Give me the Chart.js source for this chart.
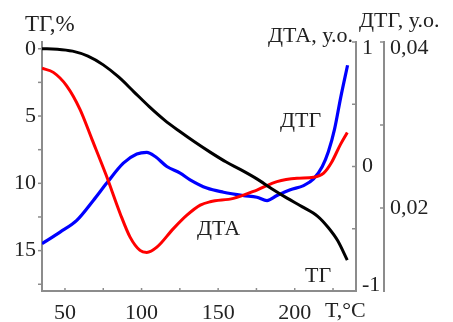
<!DOCTYPE html>
<html><head><meta charset="utf-8">
<script src="https://cdn.jsdelivr.net/npm/chart.js@4"></script>
</head>
<body style="margin:0">
<canvas id="c" width="453" height="322"></canvas>
<script>
// ---- data ----
const tgT  = [35, 45, 55, 65, 75, 85, 95, 105, 115, 125, 135, 145, 155, 165, 175, 185, 195, 205, 215, 222, 228, 234.3];
const tgV  = [0, 0.03, 0.18, 0.55, 1.2, 2.1, 3.2, 4.3, 5.3, 6.15, 6.95, 7.7, 8.4, 9.0, 9.65, 10.4, 11.1, 11.75, 12.45, 13.3, 14.25, 15.7];

const dtaT = [35, 42.4, 51.1, 59.8, 67.7, 76.8, 86, 92.5, 99, 103.4, 110, 120.8, 129.6, 138.3, 144.8, 160, 175.3, 188.4, 201.5, 212.3, 218.9, 223.9, 229.8, 234.3];
const dtaV = [0.789, 0.756, 0.648, 0.459, 0.216, -0.067, -0.377, -0.567, -0.674, -0.69, -0.648, -0.499, -0.391, -0.31, -0.283, -0.256, -0.189, -0.121, -0.094, -0.086, -0.053, 0.03, 0.176, 0.273];

const dtgT = [35, 46.8, 57.7, 68.5, 77.3, 88.1, 96.9, 103.4, 108.9, 116.5, 125.2, 131.7, 142.6, 153.5, 166.6, 175.3, 181.9, 188.4, 197.1, 205.8, 212.3, 218, 222, 226, 230, 234.5];
const dtgV = [0.0157, 0.0171, 0.0185, 0.0209, 0.0230, 0.0254, 0.0265, 0.0267, 0.0262, 0.0250, 0.0242, 0.0234, 0.0224, 0.0219, 0.0215, 0.0213, 0.0209, 0.0215, 0.0222, 0.0227, 0.0235, 0.0250, 0.0268, 0.0295, 0.0333, 0.0372];

const xTicks = [50, 75, 100, 125, 150, 175, 200, 225];
const xTickLabels = ['50', '', '100', '', '150', '', '200', ''];
const tgTicks = [0, 2.5, 5, 7.5, 10, 12.5, 15, 17.5];
const tgTickLabels = ['0', '', '5', '', '10', '', '15', ''];
const dtaTicks = [-1, -0.5, 0, 0.5, 1];
const dtaTickLabels = [['-1', ''], '', '0', '', ['', '1']];
const dtgTicks = [0.02, 0.03, 0.04];
const dtgTickLabels = ['0,02', '', ['', '0,04']];

// ---- styling ----
const FONT = 'Liberation Serif';
const TXT = '#222';
const AXIS = '#8c8c8c';

function pts(xs, ys) { return xs.map((x, i) => ({ x: x, y: ys[i] })); }
function setTicks(arr) { return (scale) => { scale.ticks = arr.map(v => ({ value: v })); }; }

const tickMarks = {
  id: 'tickMarks',
  afterDraw(chart) {
    const ctx = chart.ctx, s = chart.scales;
    ctx.save();
    ctx.strokeStyle = AXIS;
    ctx.lineWidth = 1.5;
    const seg = (x1, y1, x2, y2) => { ctx.beginPath(); ctx.moveTo(x1, y1); ctx.lineTo(x2, y2); ctx.stroke(); };
    s.y.ticks.forEach(t => { const p = s.y.getPixelForValue(t.value); seg(s.y.right - 4, p, s.y.right, p); });
    s.x.ticks.forEach(t => { const p = s.x.getPixelForValue(t.value); seg(p, s.x.top - 3, p, s.x.top + 1); });
    s.dta.ticks.forEach(t => { const p = s.dta.getPixelForValue(t.value); seg(s.dta.left - 4, p, s.dta.left, p); });
    s.dtg.ticks.forEach(t => { const p = s.dtg.getPixelForValue(t.value); seg(s.dtg.left - 4, p, s.dtg.left, p); });
    ctx.restore();
  }
};

const texts = {
  id: 'texts',
  afterDraw(chart) {
    const ctx = chart.ctx;
    ctx.save();
    ctx.fillStyle = TXT;
    ctx.textBaseline = 'alphabetic';
    const items = [
      ['ТГ,%', 25, 31, 'left', 23],
      ['ДТА, у.о.', 353, 42, 'right', 22],
      ['ДТГ, у.о.', 359, 27, 'left', 22],
      ['ДТГ', 280, 127, 'left', 22],
      ['ДТА', 197, 235, 'left', 22],
      ['ТГ', 305, 282, 'left', 22],
      ['T,°C', 325, 317, 'left', 22]
    ];
    items.forEach(([t, x, y, a, sz]) => { ctx.font = sz + 'px ' + FONT; ctx.textAlign = a; ctx.fillText(t, x, y); });
    ctx.restore();
  }
};

new Chart(document.getElementById('c'), {
  type: 'line',
  data: {
    datasets: [
      { label: 'ТГ', data: pts(tgT, tgV), yAxisID: 'y', borderColor: '#000', borderWidth: 3, pointRadius: 0, cubicInterpolationMode: 'monotone' },
      { label: 'ДТА', data: pts(dtaT, dtaV), yAxisID: 'dta', borderColor: '#ff0000', borderWidth: 3, pointRadius: 0, cubicInterpolationMode: 'monotone' },
      { label: 'ДТГ', data: pts(dtgT, dtgV), yAxisID: 'dtg', borderColor: '#0000ff', borderWidth: 3.2, pointRadius: 0, cubicInterpolationMode: 'monotone' }
    ]
  },
  options: {
    responsive: false,
    animation: false,
    layout: { padding: { top: 42, left: 0, right: 0, bottom: 0 } },
    plugins: { legend: { display: false }, tooltip: { enabled: false }, title: { display: false } },
    scales: {
      x: {
        type: 'linear', position: 'bottom', min: 35, max: 240,
        afterBuildTicks: setTicks(xTicks),
        afterFit: (s) => { s.height = 31; },
        grid: { display: true, drawOnChartArea: false, drawTicks: false },
        border: { display: true, color: AXIS, width: 2 },
        ticks: { autoSkip: false, maxRotation: 0, padding: 9, color: TXT, font: { family: FONT, size: 22 },
                 callback: (v, i) => xTickLabels[i] }
      },
      y: {
        type: 'linear', position: 'left', reverse: true, min: -0.5, max: 18,
        afterBuildTicks: setTicks(tgTicks),
        afterFit: (s) => { s.width = 42; },
        grid: { display: true, drawOnChartArea: false, drawTicks: false },
        border: { display: true, color: AXIS, width: 2 },
        ticks: { autoSkip: false, padding: 6, color: TXT, font: { family: FONT, size: 22 },
                 callback: (v, i) => tgTickLabels[i] }
      },
      dta: {
        type: 'linear', position: 'right', weight: 0, min: -1, max: 1,
        afterBuildTicks: setTicks(dtaTicks),
        afterFit: (s) => { s.width = 28; },
        grid: { display: true, drawOnChartArea: false, drawTicks: false },
        border: { display: true, color: AXIS, width: 2 },
        ticks: { autoSkip: false, padding: 6, color: TXT, font: { family: FONT, size: 22, lineHeight: 0.55 },
                 callback: (v, i) => dtaTickLabels[i] }
      },
      dtg: {
        type: 'linear', position: 'right', weight: 1, min: 0.01, max: 0.04,
        afterBuildTicks: setTicks(dtgTicks),
        afterFit: (s) => { s.width = 69; },
        grid: { display: true, drawOnChartArea: false, drawTicks: false },
        border: { display: true, color: AXIS, width: 2 },
        ticks: { autoSkip: false, padding: 6, color: TXT, font: { family: FONT, size: 22, lineHeight: 0.55 },
                 callback: (v, i) => dtgTickLabels[i] }
      }
    }
  },
  plugins: [tickMarks, texts]
});
</script>
</body></html>
